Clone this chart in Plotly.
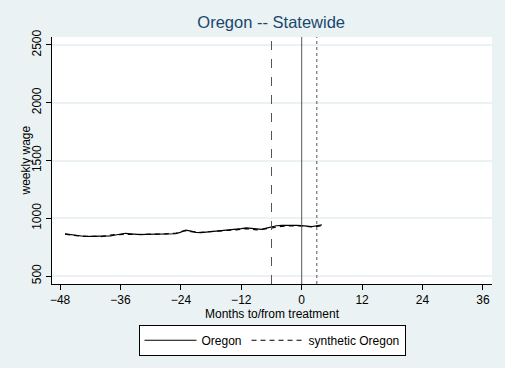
import plotly.graph_objects as go

months = list(range(-47, 5))
oregon = [865, 858, 850, 843, 842, 843, 844, 845, 846, 848, 855, 863, 870, 865, 860, 858,
          860, 861, 862, 863, 863, 864, 866, 880, 898, 888, 878, 876, 880, 885, 890, 891,
          893, 896, 903, 910, 916, 912, 908, 904, 915, 926, 935, 938, 940, 940, 939, 936,
          930, 928, 935, 942]
synthetic = [862, 855, 848, 846, 845, 846, 843, 840, 850, 855, 858, 860, 866, 862, 859, 857,
             861, 863, 860, 862, 865, 866, 870, 885, 892, 884, 880, 878, 882, 884, 888, 890,
             895, 897, 900, 905, 910, 905, 900, 902, 910, 918, 925, 930, 932, 935, 936, 932,
             926, 925, 930, 935]
vlines = [(-6, "dash", "#555555"), (0, "solid", "#555555"), (3, "dot", "#555555")]
xticks = [-48, -36, -24, -12, 0, 12, 24, 36]
yticks = [500, 1000, 1500, 2000, 2500]

fig = go.Figure()
fig.add_trace(go.Scatter(x=months, y=oregon, mode="lines", name="Oregon",
                         line=dict(color="black", width=1.2)))
fig.add_trace(go.Scatter(x=months, y=synthetic, mode="lines", name="synthetic Oregon",
                         line=dict(color="black", width=1.2, dash="5px,4px")))
for xv, d, c in vlines:
    fig.add_shape(type="line", x0=xv, x1=xv, y0=0, y1=1, xref="x", yref="paper",
                  line=dict(color=c, width=1, dash=d))

font = "Liberation Sans, Arial, sans-serif"
fig.add_annotation(text="weekly wage", xref="paper", yref="paper", x=(25 - 52) / 440, y=0.5,
                   xanchor="center", yanchor="middle", textangle=-90, showarrow=False,
                   font=dict(size=12, color="black", family=font))
fig.update_layout(
    width=505, height=368,
    margin=dict(l=52, r=13, t=37, b=84),
    paper_bgcolor="#EAF2F3", plot_bgcolor="white",
    font=dict(family=font, size=12, color="black"),
    title=dict(text="Oregon -- Statewide", x=0.537, xanchor="center", y=0.94, yanchor="middle",
               font=dict(size=16.5, color="#1A476F", family=font)),
    xaxis=dict(range=[-49.6, 37.8], tickvals=xticks, ticks="outside", ticklen=5,
               tickcolor="black", showline=True, linecolor="black", linewidth=1,
               showgrid=False, zeroline=False,
               title=dict(text="Months to/from treatment", standoff=2, font=dict(size=12))),
    yaxis=dict(range=[431, 2569], tickvals=yticks, ticks="outside", ticklen=5,
               tickcolor="black", showline=True, linecolor="black", linewidth=1,
               showgrid=True, gridcolor="#EAF2F3", gridwidth=1.5, zeroline=False,
               tickangle=-90),
    legend=dict(orientation="h", x=0.5, xanchor="center", y=-0.165, yanchor="top",
                bgcolor="white", bordercolor="black", borderwidth=1,
                itemwidth=52, font=dict(size=12)),
    showlegend=True,
)
fig.write_html("out.html")
